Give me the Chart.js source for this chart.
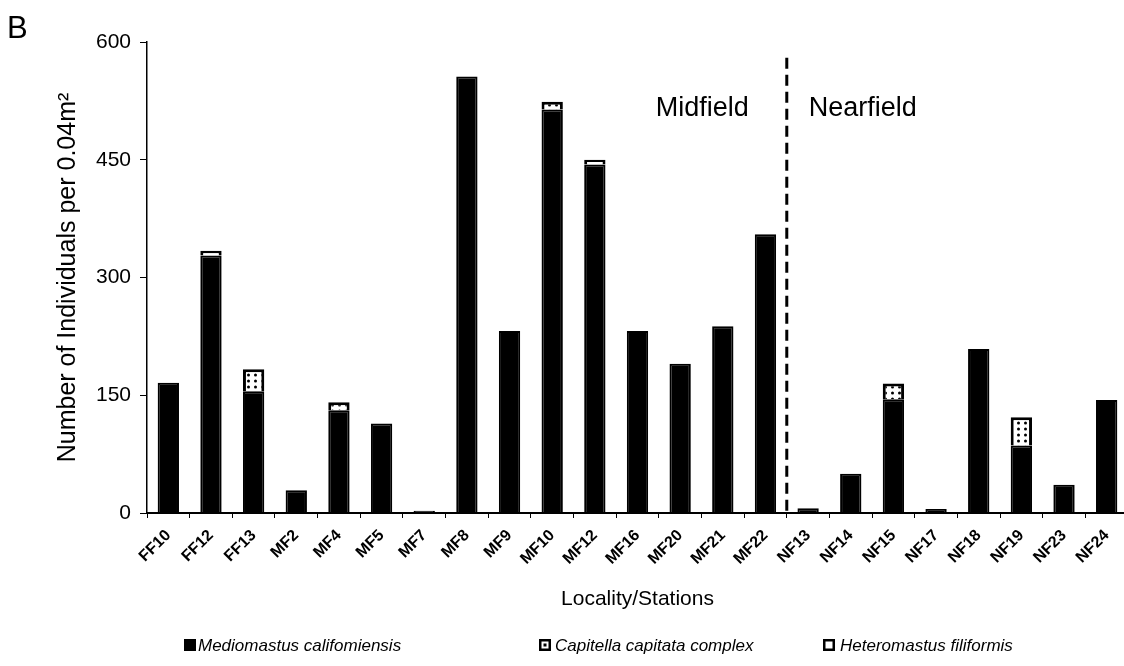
<!DOCTYPE html>
<html>
<head>
<meta charset="utf-8">
<script src="https://cdn.jsdelivr.net/npm/chart.js@4.4.1/dist/chart.umd.min.js"></script>
<style>
  html, body { margin: 0; padding: 0; background: #fff; overflow: hidden; width: 1124px; height: 666px; }
  canvas { display: block; }
</style>
</head>
<body>
<canvas id="c" width="1128" height="666" style="width:1128px;height:666px"></canvas>
<script>
// Stations along the transect
const stations = ['FF10','FF12','FF13','MF2','MF4','MF5','MF7','MF8','MF9','MF10','MF12',
  'MF16','MF20','MF21','MF22','NF13','NF14','NF15','NF17','NF18','NF19','NF23','NF24'];

// Individuals per 0.04 m2, by species (null = none recorded)
const mediomastus = [166, 328, 155, 29, 131, 114, 3, 556, 232, 514, 444,
  232, 190, 238, 355, 6, 50, 145, 5, 209, 86, 36, 144];
const capitella = [null, null, 28, null, 10, null, null, null, null, 10, null,
  null, null, null, null, null, null, 20, null, null, 36, null, null];
const heteromastus = [null, 6, null, null, null, null, null, null, null, null, 6,
  null, null, null, null, null, null, null, null, null, null, null, null];

const speciesNames = ['Mediomastus califomiensis', 'Capitella capitata complex', 'Heteromastus filiformis'];
const yTickValues = [0, 150, 300, 450, 600];
const regionNames = ['Midfield', 'Nearfield'];
const lastMidfieldIndex = 14;   // MF22; the divider sits after it
const dividerTop = 580;

const FONT = '"Liberation Sans", Arial, Helvetica, sans-serif';
const canvas = document.getElementById('c');
const ctx = canvas.getContext('2d');

// dotted fill used for Capitella
function dotPattern() {
  const tile = document.createElement('canvas');
  tile.width = 7; tile.height = 6;
  const g = tile.getContext('2d');
  g.fillStyle = '#fff'; g.fillRect(0, 0, 7, 6);
  g.fillStyle = '#000';
  g.beginPath(); g.arc(3.5, 3, 1.5, 0, Math.PI * 2); g.fill();
  return ctx.createPattern(tile, 'repeat');
}
const capPattern = dotPattern();

const overlay = {
  id: 'overlay',
  afterDraw(chart) {
    const c = chart.ctx, x = chart.scales.x, y = chart.scales.y;
    c.save();
    // panel letter
    c.fillStyle = '#000';
    c.font = '31px ' + FONT;
    c.textAlign = 'left'; c.textBaseline = 'alphabetic';
    c.fillText('B', 7, 38);

    // midfield / nearfield divider
    const dx = (x.getPixelForValue(lastMidfieldIndex) + x.getPixelForValue(lastMidfieldIndex + 1)) / 2;
    c.strokeStyle = '#000'; c.lineWidth = 3; c.setLineDash([11, 6]);
    c.beginPath(); c.moveTo(dx, y.getPixelForValue(dividerTop)); c.lineTo(dx, y.getPixelForValue(0)); c.stroke();
    c.setLineDash([]);

    c.font = '27px ' + FONT;
    c.textBaseline = 'middle';
    const ry = y.getPixelForValue(515);
    c.textAlign = 'right'; c.fillText(regionNames[0], dx - 38, ry);
    c.textAlign = 'left'; c.fillText(regionNames[1], dx + 22, ry);

    // legend
    const ly = 645;
    const items = [
      { box: 184, text: 198 },
      { box: 539, text: 555 },
      { box: 823, text: 840 }
    ];
    c.font = 'italic 17px ' + FONT;
    c.textAlign = 'left'; c.textBaseline = 'middle';
    items.forEach((it, i) => {
      const s = 12, bx = it.box, by = ly - s / 2;
      c.fillStyle = '#000'; c.fillRect(bx, by, s, s);
      if (i > 0) {
        c.fillStyle = '#fff'; c.fillRect(bx + 2.5, by + 2.5, s - 5, s - 5);
        if (i === 1) { c.fillStyle = '#000'; c.fillRect(bx + 4.5, by + 4.5, 3, 3); }
      }
      c.fillStyle = '#000';
      c.fillText(speciesNames[i], it.text, ly + 1);
    });
    c.restore();
  }
};

new Chart(ctx, {
  type: 'bar',
  data: {
    labels: stations,
    datasets: [
      { label: speciesNames[0], data: mediomastus, backgroundColor: '#000', borderColor: '#000', borderWidth: 2 },
      { label: speciesNames[1], data: capitella, backgroundColor: capPattern, borderColor: '#000', borderWidth: 3 },
      { label: speciesNames[2], data: heteromastus, backgroundColor: '#fff', borderColor: '#000', borderWidth: 3 }
    ]
  },
  options: {
    responsive: false,
    animation: false,
    devicePixelRatio: 1,
    layout: { padding: { top: 42, left: 0, right: 0, bottom: 0 } },
    datasets: { bar: { categoryPercentage: 1, barPercentage: 0.5 } },
    plugins: { legend: { display: false }, tooltip: { enabled: false } },
    scales: {
      x: {
        stacked: true,
        grid: { display: true, offset: true, drawOnChartArea: false, drawTicks: true, tickLength: 5, color: '#000', lineWidth: 1 },
        border: { display: true, color: '#000', width: 2 },
        ticks: {
          autoSkip: false, minRotation: 45, maxRotation: 45, padding: 8,
          color: '#000', font: { family: FONT, size: 16, weight: 'bold' }
        },
        title: {
          display: true, text: 'Locality/Stations', color: '#000',
          font: { family: FONT, size: 21 }, padding: { top: 0, bottom: 54 }
        },
        afterFit(s) { s.height = 153; s.paddingLeft = 0; s.paddingRight = 0; }
      },
      y: {
        stacked: true,
        min: 0, max: 600,
        afterBuildTicks(s) { s.ticks = yTickValues.map(v => ({ value: v })); },
        grid: { display: true, drawOnChartArea: false, drawTicks: true, tickLength: 7, color: '#000', lineWidth: 1 },
        border: { display: true, color: '#000', width: 1.5 },
        ticks: { padding: 9, color: '#000', font: { family: FONT, size: 21 } },
        title: {
          display: true, text: 'Number of Individuals per 0.04m\u00B2', color: '#000',
          font: { family: FONT, size: 25 }, padding: { top: 53, bottom: 0 }
        },
        afterFit(s) { s.width = 147; }
      }
    }
  },
  plugins: [overlay]
});
</script>
</body>
</html>
